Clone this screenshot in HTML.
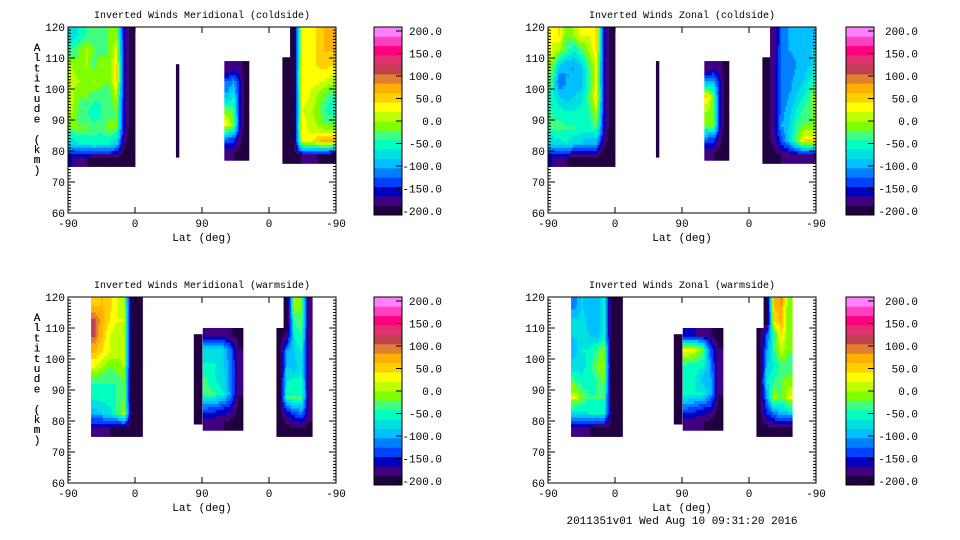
<!DOCTYPE html>
<html><head><meta charset="utf-8">
<style>
html,body{margin:0;padding:0;background:#fff;}
svg{display:block;font-family:"Liberation Mono","DejaVu Sans Mono",monospace;}
</style></head>
<body>
<svg id="chart" width="960" height="540" viewBox="0 0 960 540"></svg>
<script>
const colorBands=["#200040","#400080","#0000c0","#0040ff","#0080ff","#00c0ff","#00e0e0","#00ffc0","#40ff80","#80ff00","#c0ff00","#ffff00","#ffd000","#ffb000","#e08030","#c04050","#e03070","#ff0080","#ff40c0","#ff80ff"];
const cbTicks=[200,150,100,50,0,-50,-100,-150,-200];
const yTicks=[120,110,100,90,80,70,60];
const xTickLabels=["-90","0","90","0","-90"];
const xTickTrack=[0,90,180,270,360];
const titles=["Inverted Winds Meridional (coldside)","Inverted Winds Zonal (coldside)","Inverted Winds Meridional (warmside)","Inverted Winds Zonal (warmside)"];

const tlA=[[-80,-60,-40,-30,-30,-20,-10,-150,-200],[-40,-20,0,-20,-30,-20,20,-150,-200],[0,-20,0,-30,0,-20,40,-150,-200],[10,0,-10,0,-10,-20,40,-150,-200],[10,-20,-20,-30,-40,-30,0,-150,-200],[0,-30,-40,-60,-40,-30,-20,-150,-200],[-20,-20,-20,-30,-30,-10,-20,-150,-200],[-80,-60,-60,-50,-60,-60,-80,-170,-200],[-160,-170,-180,-190,-190,-190,-190,-200,-200]];
const tlC=[[-180,-170,-170,-190],[-120,-100,-150,-200],[-90,-60,-150,-200],[-20,-30,-150,-200],[30,-10,-150,-200],[-120,-130,-170,-200],[-180,-180,-190,-200]];
const tlD=[[null,-200,20,20,40,60,60],[null,-200,20,30,40,60,60],[-190,-200,30,20,40,50,40],[-190,-200,40,30,30,20,10],[-190,-200,30,20,0,-20,-40],[-190,-200,20,10,-10,-40,-50],[-190,-200,40,10,0,-20,-20],[-190,-200,20,30,50,70,60],[-190,-190,-180,-180,-180,-190,-190]];
const trA=[[20,40,-20,0,30,20,40,-150,-200],[20,0,-30,-60,-30,0,40,-150,-200],[-10,-80,-100,-100,-80,-30,20,-150,-200],[-30,-120,-100,-100,-90,-40,20,-150,-200],[-50,-80,-90,-80,-70,-30,40,-150,-200],[-40,-50,-60,-60,-50,-40,0,-150,-200],[-40,-30,-40,-40,-50,-50,-30,-150,-200],[-80,-70,-60,-80,-80,-100,-100,-170,-200],[-160,-170,-180,-190,-190,-190,-190,-200,-200]];
const trC=[[-180,-170,-170,-190],[-100,-90,-150,-200],[40,-20,-150,-200],[0,-20,-150,-200],[-20,-10,-150,-200],[-120,-130,-170,-200],[-180,-180,-190,-200]];
const trD=[[null,-180,-120,-100,-100,-100,-90],[null,-180,-110,-100,-90,-100,-80],[-190,-170,-110,-120,-100,-90,-80],[-190,-170,-110,-110,-90,-80,-50],[-190,-170,-110,-100,-80,-60,-20],[-190,-170,-110,-90,-60,-30,-20],[-190,-170,-100,-80,-40,-20,-20],[-190,-170,-130,-80,-20,40,40],[-190,-190,-180,-180,-170,-170,-170]];
const blA=[[50,60,50,20,0,-200,-190],[100,70,40,20,20,-200,-190],[100,60,20,0,10,-200,-190],[60,40,20,10,10,-200,-190],[20,0,-20,-10,0,-200,-190],[-40,-40,-40,-40,-20,-200,-190],[-60,-50,-50,-40,-20,-200,-190],[-90,-80,-70,-40,0,-180,-190],[-170,-180,-180,-190,-190,-190,-190]];
const blC=[[-170,-170,-170,-180,-190],[-70,-80,-80,-120,-180],[-60,-60,-80,-110,-180],[-40,-60,-70,-110,-180],[-30,-40,-60,-110,-180],[-120,-130,-140,-150,-190],[-180,-180,-180,-190,-190]];
const blD=[[null,-200,0,-20,-180],[null,-200,-40,-20,-180],[-190,-170,-60,-40,-180],[-190,-100,-80,-60,-180],[-190,-80,-90,-70,-170],[-190,-60,-50,-50,-170],[-190,-40,-40,-40,-170],[-190,-150,-130,-110,-170],[-190,-190,-190,-190,-190]];
const brA=[[-110,-80,-100,-100,-60,-200,-190],[-80,-70,-90,-100,-60,-200,-190],[-80,-70,-80,-90,-60,-200,-190],[-90,-60,-60,-30,-10,-200,-190],[-70,-70,-50,-20,0,-200,-190],[-30,-50,-50,-40,-20,-200,-190],[20,-20,-40,-40,-40,-200,-190],[-80,-70,-60,-60,-60,-180,-190],[-170,-180,-180,-190,-190,-190,-190]];
const brC=[[-160,-160,-170,-180,-190],[30,20,-20,-130,-180],[-40,-50,-50,-110,-180],[-60,-60,-90,-100,-180],[-50,-60,-60,-100,-180],[-120,-130,-140,-150,-190],[-180,-180,-180,-190,-190]];
const brD=[[null,-200,60,80,-20],[null,-200,40,70,-20],[-190,-120,-40,40,-20],[-190,-100,-40,10,-20],[-190,-80,-60,-30,-30],[-190,-60,-40,-20,-10],[-190,-100,0,-30,20],[-190,-140,-110,-90,-80],[-190,-190,-190,-190,-190]];
const lineB=[[-200]];
const lineB2=[[-190]];

const panels=[
 {x0:68,y0:27,cbx:374,lblx:442,regions:[[0,90,120,75,tlA],[145,149,108,78,lineB],[210,243,109,77,tlC],[288,360,120,76,tlD]]},
 {x0:548,y0:27,cbx:846,lblx:918,regions:[[0,90,120,75,trA],[145,149,109,78,lineB],[210,243,109,77,trC],[288,360,120,76,trD]]},
 {x0:68,y0:297,cbx:374,lblx:442,regions:[[31,100,120,75,blA],[169,180,108,79,lineB2],[181,235,110,77,blC],[280,328,120,75,blD]]},
 {x0:548,y0:297,cbx:846,lblx:918,regions:[[31,100,120,75,brA],[169,180,108,79,lineB2],[181,235,110,77,brC],[280,328,120,75,brD]]}
];
const W=268,H=186,SUB=5;
const svg=document.getElementById('chart');
const NS='http://www.w3.org/2000/svg';
function mk(tag,attrs,parent){const e=document.createElementNS(NS,tag);for(const k in attrs)e.setAttribute(k,attrs[k]);(parent||svg).appendChild(e);return e;}
function colorOf(v){let i=Math.floor((v+200)/20);if(i<0)i=0;if(i>19)i=19;return colorBands[i];}
function sample(grid,r,c){
  const nr=grid.length,nc=grid[0].length;
  r=Math.max(0,Math.min(nr-1,r));c=Math.max(0,Math.min(nc-1,c));
  const r0=Math.floor(r),c0=Math.floor(c),r1=Math.min(nr-1,r0+1),c1=Math.min(nc-1,c0+1);
  const fr=r-r0,fc=c-c0;
  let s=0,w=0;
  [[r0,c0,(1-fr)*(1-fc)],[r0,c1,(1-fr)*fc],[r1,c0,fr*(1-fc)],[r1,c1,fr*fc]].forEach(([a,b,ww])=>{const v=grid[a][b];if(v!==null&&ww>0){s+=v*ww;w+=ww;}});
  return w>0?s/w:grid[Math.round(r)][Math.round(c)];
}

panels.forEach((p,pi)=>{
  const g=mk('g',{});
  
  
  const xs=t=>p.x0+t*W/360;
  const ys=a=>p.y0+(120-a)*H/60;
  p.regions.forEach((r)=>{
    const [t0,t1,aTop,aBot,grid]=r;
    const nr=grid.length,nc=grid[0].length;
    const sr=nr===1?1:SUB,sc=nc===1?1:SUB;
    const cw=(t1-t0)/(nc*sc),rh=(aTop-aBot)/(nr*sr);
    for(let i=0;i<nr*sr;i++)for(let j=0;j<nc*sc;j++){
      const gi=Math.floor(i/sr),gj=Math.floor(j/sc);
      if(grid[gi][gj]===null)continue;
      const v=sample(grid,(i+0.5)/sr-0.5,(j+0.5)/sc-0.5);
      const x=xs(t0+j*cw),x2=xs(t0+(j+1)*cw),y=ys(aTop-i*rh),y2=ys(aTop-(i+1)*rh);
      const c=mk('rect',{x:x.toFixed(2),y:y.toFixed(2),width:(x2-x+0.4).toFixed(2),height:(y2-y+0.4).toFixed(2),fill:colorOf(v)},g);
      
      
    }
  });
  const fr=mk('rect',{x:p.x0,y:p.y0,width:W,height:H,fill:'none',stroke:'#000','stroke-width':1},g);
  
  
  for(let a=60;a<=120;a++){
    const y=ys(a),len=(a%10===0)?7:3;
    mk('line',{x1:p.x0,x2:p.x0+len,y1:y,y2:y,stroke:'#000','stroke-width':1},g);
    mk('line',{x1:p.x0+W,x2:p.x0+W-len,y1:y,y2:y,stroke:'#000','stroke-width':1},g);
  }
  yTicks.forEach(a=>{
    const t=mk('text',{x:p.x0-3,y:ys(a)+4,'text-anchor':'end','font-size':11},g);
    t.textContent=a;
    
    
  });
  xTickTrack.forEach((tt,i)=>{
    const x=xs(tt);
    mk('line',{x1:x,x2:x,y1:p.y0+H,y2:p.y0+H-6,stroke:'#000'},g);
    mk('line',{x1:x,x2:x,y1:p.y0,y2:p.y0+6,stroke:'#000'},g);
    const t=mk('text',{x:x,y:p.y0+H+14,'text-anchor':'middle','font-size':11},g);
    t.textContent=xTickLabels[i];
    
    
  });
  const xl=mk('text',{x:p.x0+W/2,y:p.y0+H+28,'text-anchor':'middle','font-size':11},g);
  xl.textContent='Lat (deg)';
  
  
  const ti=mk('text',{x:p.x0+W/2,y:p.y0-9,'text-anchor':'middle','font-size':10},g);
  ti.textContent=titles[pi];
  
  
  const yl=mk('text',{x:37,y:p.y0+24,'text-anchor':'middle','font-size':11},g);
  
  
  "Altitude (km)".split('').forEach((ch,k)=>{const s=mk('tspan',{x:37,y:p.y0+24+k*10.2},yl);s.textContent=ch;});
  const cbTop=p.y0,cbH=188,bh=cbH/20;
  const cb=mk('g',{},g);
  
  
  colorBands.forEach((c,k)=>{
    mk('rect',{x:p.cbx,y:(cbTop+cbH-(k+1)*bh).toFixed(2),width:28,height:(bh+0.3).toFixed(2),fill:c},cb);
  });
  mk('rect',{x:p.cbx,y:cbTop,width:28,height:cbH,fill:'none',stroke:'#000'},cb);
  cbTicks.forEach(v=>{
    const y=cbTop+cbH/2-(v/200)*(cbH/2-4);
    mk('line',{x1:p.cbx+28,x2:p.cbx+22,y1:y,y2:y,stroke:'#000'},cb);
    const t=mk('text',{x:p.lblx,y:y+4,'text-anchor':'end','font-size':11},cb);
    t.textContent=v.toFixed(1);
    
    
  });
});
const ft=mk('text',{x:682,y:524,'text-anchor':'middle','font-size':11});
ft.textContent='2011351v01 Wed Aug 10 09:31:20 2016';


</script>
</body></html>
